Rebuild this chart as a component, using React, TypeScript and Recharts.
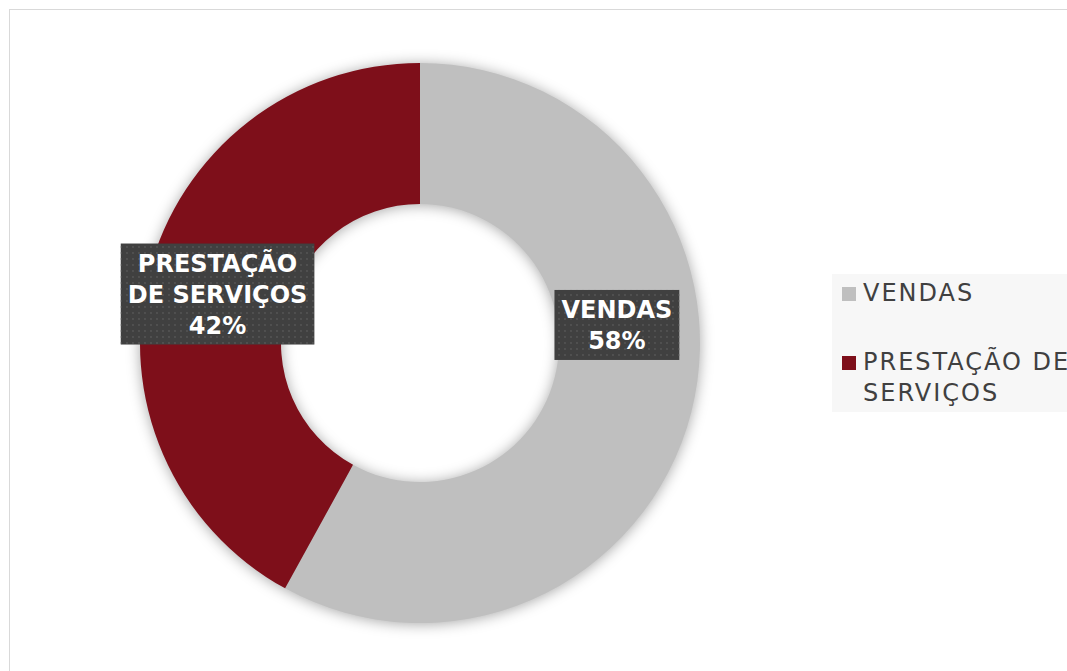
import { useLayoutEffect, useRef, useState } from "react";
import { PieChart, Pie, Cell, Legend } from "recharts";

const categories = ["VENDAS", "PRESTAÇÃO DE SERVIÇOS"];
const shares = [58, 42];
const colors = ["#bfbfbf", "#7e0f1a"];

const chartData = categories.map((name, i) => ({ name, value: shares[i] }));

const LINE_H = 31;

// break a label into short lines, like the excel data labels do
const wrap = (text: string, max = 11) => {
  const out: string[] = [];
  text.split(" ").forEach((w) => {
    const last = out[out.length - 1];
    if (last && (last + " " + w).length <= max) out[out.length - 1] = last + " " + w;
    else out.push(w);
  });
  return out;
};

function LabelBox({ x, y, lines }: { x: number; y: number; lines: string[] }) {
  const ref = useRef<SVGTextElement>(null);
  const [w, setW] = useState(0);
  useLayoutEffect(() => {
    if (ref.current) setW(ref.current.getBBox().width);
  }, [lines.join("|")]);
  const h = lines.length * LINE_H + 8;
  const bw = w + 14;
  const first = y - ((lines.length - 1) * LINE_H) / 2 + 9;
  return (
    <g>
      {w > 0 && (
        <>
          <rect x={x - bw / 2} y={y - h / 2} width={bw} height={h} fill="#404040" />
          <rect x={x - bw / 2} y={y - h / 2} width={bw} height={h} fill="url(#dots)" />
        </>
      )}
      <text
        ref={ref}
        x={x}
        y={first}
        textAnchor="middle"
        fill="#ffffff"
        fontFamily="DejaVu Sans"
        fontWeight="bold"
        fontSize={24}
      >
        {lines.map((l, i) => (
          <tspan key={i} x={x} dy={i === 0 ? 0 : LINE_H}>
            {l}
          </tspan>
        ))}
      </text>
    </g>
  );
}

const RADIAN = Math.PI / 180;

const renderLabel = (props: any) => {
  const { cx, cy, midAngle, percent, name, index } = props;
  // excel's best fit pushes the big slice label up a bit
  const angle = index === 0 ? midAngle + 20.5 : midAngle;
  const r = index === 0 ? 198 : 209;
  const x = cx + r * Math.cos(-angle * RADIAN);
  const y = cy + r * Math.sin(-angle * RADIAN) + 3;
  const lines = [...wrap(name), Math.round(percent * 100) + "%"];
  return <LabelBox key={name} x={x} y={y} lines={lines} />;
};

const LegendContent = () => (
  <div
    style={{
      background: "#f7f7f7",
      width: 260,
      height: 138,
      paddingTop: 4,
      boxSizing: "border-box",
      fontFamily: "DejaVu Sans",
      fontSize: 24,
      letterSpacing: 2,
      color: "#404040",
      lineHeight: `${LINE_H}px`,
    }}
  >
    {categories.map((c, i) => (
      <div
        key={c}
        style={{ display: "flex", alignItems: "flex-start", marginBottom: 38 }}
      >
        <div
          style={{
            width: 14,
            height: 14,
            background: colors[i],
            marginLeft: 10,
            marginRight: 7,
            marginTop: 9,
            flexShrink: 0,
          }}
        />
        <div style={{ width: 235 }}>{c}</div>
      </div>
    ))}
  </div>
);

export default function App() {
  return (
    <div
      style={{
        position: "fixed",
        left: 9,
        top: 9,
        width: 1058,
        height: 662,
        borderTop: "1px solid #d9d9d9",
        borderLeft: "1px solid #d9d9d9",
        overflow: "hidden",
        background: "#ffffff",
      }}
    >
      <style>{`.recharts-pie { filter: drop-shadow(0px 1px 7px rgba(0,0,0,0.35)); }`}</style>
      <PieChart width={1058} height={662}>
        <defs>
          <pattern id="dots" width={6} height={6} patternUnits="userSpaceOnUse">
            <circle cx={3} cy={3} r={0.9} fill="#565656" />
          </pattern>
        </defs>
        <Pie
          data={chartData}
          dataKey="value"
          nameKey="name"
          cx={405}
          cy={328}
          innerRadius={139}
          outerRadius={280}
          startAngle={90}
          endAngle={-270}
          stroke="none"
          label={renderLabel}
          labelLine={false}
          isAnimationActive={false}
        >
          {chartData.map((d, i) => (
            <Cell key={d.name} fill={colors[i]} />
          ))}
        </Pie>
        <Legend
          content={<LegendContent />}
          wrapperStyle={{ position: "absolute", left: 822, top: 264, width: 260 }}
        />
      </PieChart>
    </div>
  );
}
